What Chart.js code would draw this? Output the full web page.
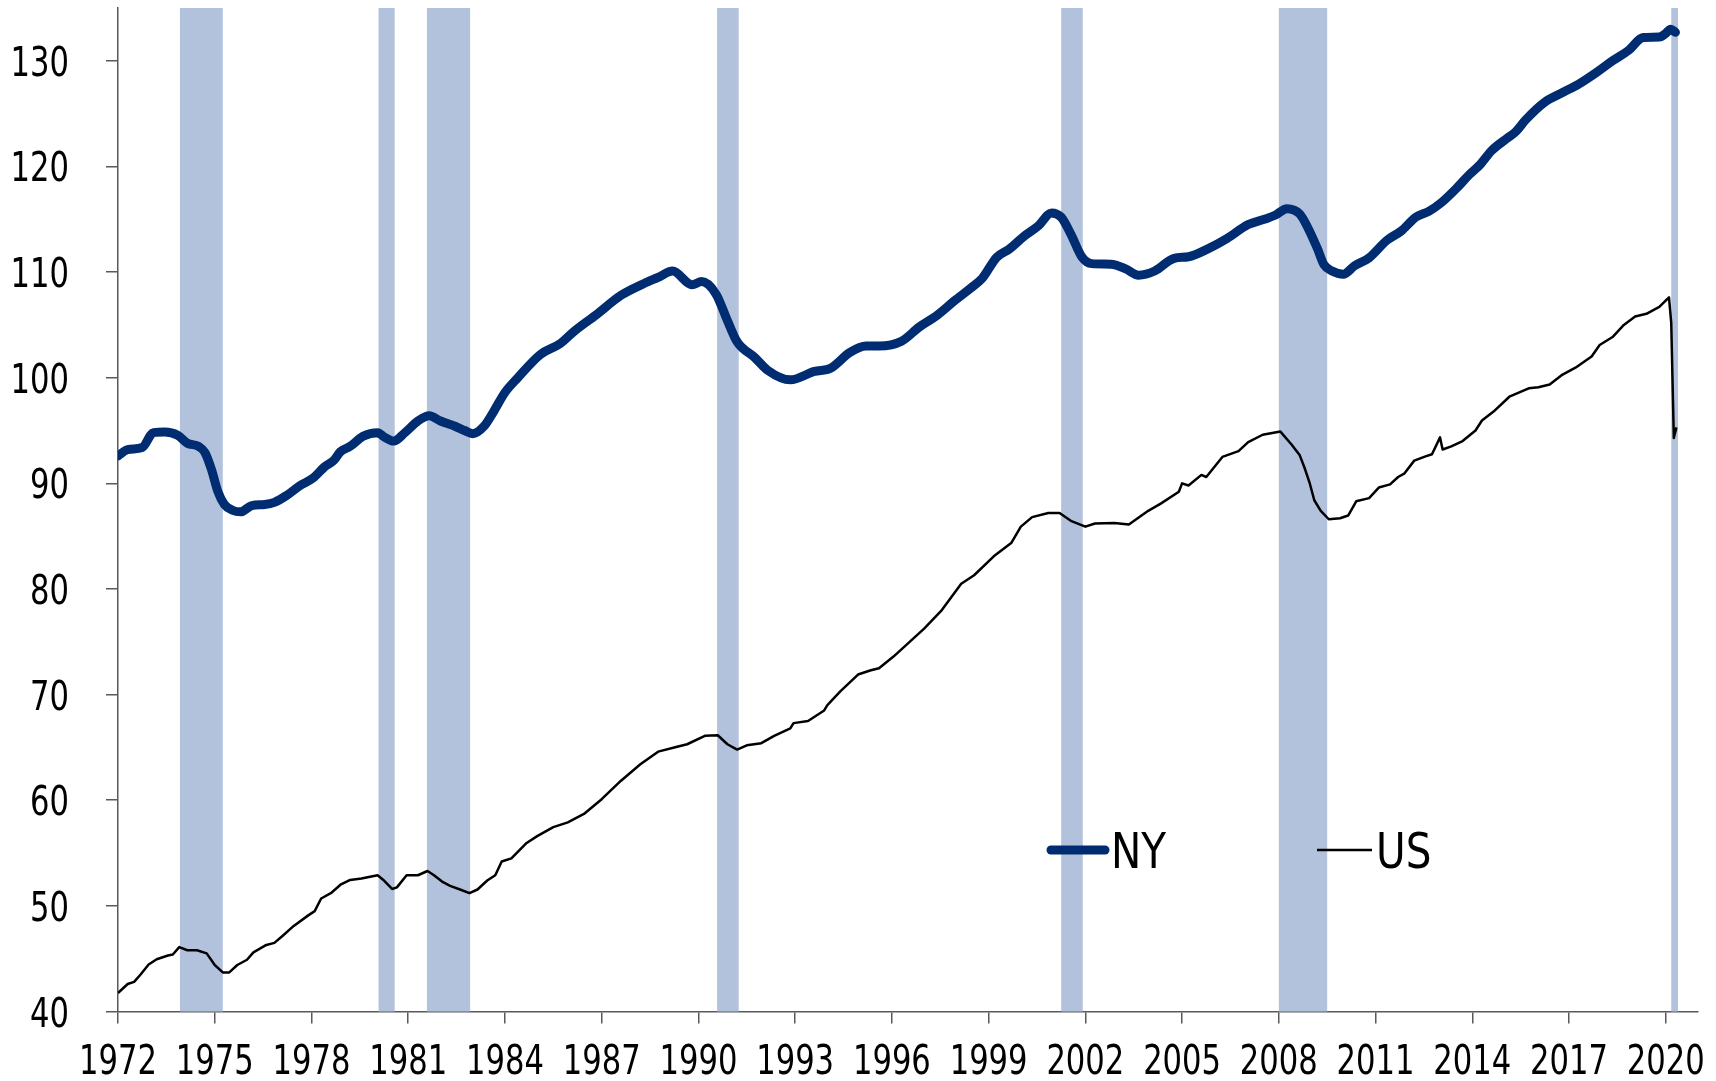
<!DOCTYPE html>
<html>
<head>
<meta charset="utf-8">
<script src="https://cdn.jsdelivr.net/npm/chart.js@4.4.1/dist/chart.umd.min.js"></script>
<style>
	html, body { margin: 0; padding: 0; background: #fff; }
</style>
</head>
<body>
<canvas id="employmentChart" width="1716" height="1081"></canvas>
<script>
// NY (thick navy line)
const nyYears = [
	1972.0, 1972.3, 1972.75, 1973.1, 1973.45, 1973.85, 1974.15, 1974.5, 1974.7, 1974.9,
	1975.1, 1975.3, 1975.55, 1975.8, 1976.15, 1976.55, 1976.85, 1977.25, 1977.65, 1978.05,
	1978.4, 1978.7, 1978.9, 1979.2, 1979.6, 1980.05, 1980.25, 1980.55, 1980.9, 1981.3,
	1981.65, 1982.0, 1982.45, 1982.75, 1983.0, 1983.35, 1983.65, 1984.0, 1984.4, 1985.1,
	1985.7, 1986.15, 1986.85, 1987.6, 1988.3, 1988.75, 1989.2, 1989.8, 1990.1, 1990.55,
	1990.9, 1991.2, 1991.75, 1992.15, 1992.85, 1993.6, 1994.1, 1994.7, 1995.2, 1995.6,
	1996.3, 1996.85, 1997.4, 1997.95, 1998.45, 1998.8, 1999.25, 1999.65, 2000.1, 2000.55,
	2000.95, 2001.25, 2001.55, 2001.9, 2002.2, 2002.8, 2003.25, 2003.65, 2004.15, 2004.75,
	2005.2, 2005.8, 2006.4, 2007.05, 2007.55, 2007.9, 2008.25, 2008.65, 2008.9, 2009.2,
	2009.4, 2009.65, 2010.0, 2010.35, 2010.8, 2011.35, 2011.8, 2012.25, 2012.65, 2013.05,
	2013.5, 2013.9, 2014.25, 2014.6, 2015.05, 2015.35, 2015.65, 2016.25, 2016.8, 2017.3,
	2017.85, 2018.35, 2018.85, 2019.3, 2019.8, 2020.0, 2020.15, 2020.3
];
const nyValues = [
	92.6, 93.2, 93.4, 94.8, 94.85, 94.55, 93.8, 93.5, 92.9, 91.3,
	89.2, 88.0, 87.45, 87.3, 87.9, 88.0, 88.2, 88.9, 89.8, 90.5,
	91.55, 92.2, 93.0, 93.5, 94.45, 94.8, 94.4, 94.0, 94.8, 95.9,
	96.4, 95.9, 95.4, 95.0, 94.7, 95.4, 96.8, 98.6, 100.0, 102.2,
	103.2, 104.4, 106.0, 107.8, 108.9, 109.5, 110.1, 108.8, 109.1, 107.9,
	105.4, 103.4, 101.9, 100.7, 99.8, 100.6, 100.9, 102.4, 103.0, 103.0,
	103.45, 104.8, 105.9, 107.3, 108.5, 109.4, 111.4, 112.2, 113.4, 114.4,
	115.6, 115.2, 113.6, 111.4, 110.8, 110.75, 110.3, 109.7, 110.1, 111.3,
	111.45, 112.2, 113.2, 114.5, 115.0, 115.4, 116.0, 115.5, 114.2, 112.2,
	110.7, 110.1, 109.8, 110.6, 111.35, 113.0, 113.9, 115.2, 115.75, 116.6,
	117.9, 119.2, 120.2, 121.5, 122.6, 123.3, 124.4, 126.1, 127.0, 127.8,
	128.9, 130.0, 131.0, 132.2, 132.25, 132.6, 133.0, 132.7
];

// US (thin black line)
const usYears = [
	1972.0, 1972.3, 1972.5, 1972.7, 1972.95, 1973.2, 1973.55, 1973.7, 1973.9, 1974.15,
	1974.45, 1974.75, 1975.0, 1975.25, 1975.45, 1975.7, 1976.0, 1976.2, 1976.6, 1976.85,
	1977.1, 1977.45, 1977.9, 1978.1, 1978.3, 1978.6, 1978.9, 1979.2, 1979.55, 1980.05,
	1980.25, 1980.5, 1980.65, 1980.95, 1981.3, 1981.6, 1981.8, 1982.05, 1982.3, 1982.65,
	1982.9, 1983.15, 1983.45, 1983.7, 1983.9, 1984.2, 1984.65, 1985.0, 1985.5, 1985.95,
	1986.45, 1987.0, 1987.6, 1988.2, 1988.75, 1989.25, 1989.65, 1990.2, 1990.6, 1990.9,
	1991.2, 1991.5, 1991.95, 1992.35, 1992.85, 1992.95, 1993.4, 1993.9, 1994.0, 1994.4,
	1994.95, 1995.35, 1995.6, 1996.05, 1996.5, 1997.0, 1997.55, 1998.15, 1998.55, 1999.2,
	1999.7, 2000.0, 2000.35, 2000.85, 2001.2, 2001.55, 2002.0, 2002.3, 2002.9, 2003.35,
	2003.95, 2004.35, 2004.9, 2005.0, 2005.2, 2005.6, 2005.75, 2006.25, 2006.75, 2007.05,
	2007.5, 2008.05, 2008.4, 2008.65, 2008.8, 2008.95, 2009.1, 2009.3, 2009.55, 2009.9,
	2010.15, 2010.4, 2010.8, 2011.1, 2011.45, 2011.7, 2011.9, 2012.2, 2012.55, 2012.75,
	2013.0, 2013.08, 2013.35, 2013.7, 2014.1, 2014.3, 2014.7, 2015.15, 2015.75, 2016.05,
	2016.4, 2016.8, 2017.2, 2017.7, 2017.95, 2018.35, 2018.7, 2019.05, 2019.4, 2019.8,
	2020.1, 2020.17, 2020.25, 2020.33
];
const usValues = [
	41.75, 42.6, 42.8, 43.5, 44.45, 44.95, 45.3, 45.4, 46.1, 45.8,
	45.8, 45.5, 44.4, 43.7, 43.7, 44.4, 44.9, 45.6, 46.3, 46.5,
	47.15, 48.1, 49.1, 49.5, 50.7, 51.2, 52.0, 52.45, 52.6, 52.9,
	52.4, 51.6, 51.75, 52.9, 52.9, 53.3, 52.9, 52.3, 51.9, 51.5,
	51.2, 51.55, 52.4, 52.9, 54.2, 54.5, 55.9, 56.6, 57.45, 57.9,
	58.7, 60.1, 61.85, 63.4, 64.6, 65.0, 65.3, 66.1, 66.15, 65.3,
	64.8, 65.2, 65.4, 66.1, 66.8, 67.3, 67.5, 68.5, 69.0, 70.3,
	71.9, 72.3, 72.5, 73.6, 74.85, 76.25, 78.0, 80.5, 81.3, 83.2,
	84.35, 85.9, 86.8, 87.2, 87.2, 86.45, 85.9, 86.2, 86.25, 86.1,
	87.4, 88.1, 89.2, 90.0, 89.8, 90.8, 90.6, 92.5, 93.05, 93.9,
	94.6, 94.9, 93.65, 92.65, 91.45, 90.1, 88.4, 87.4, 86.6, 86.7,
	86.95, 88.3, 88.6, 89.6, 89.9, 90.6, 90.95, 92.15, 92.55, 92.75,
	94.35, 93.2, 93.5, 94.0, 95.0, 95.95, 96.9, 98.2, 99.0, 99.1,
	99.35, 100.3, 100.95, 102.0, 103.1, 103.85, 105.0, 105.8, 106.05, 106.7,
	107.6, 105.2, 94.3, 95.3
];

// recession shading (decimal years)
const recessionStarts = [1973.92, 1980.08, 1981.58, 1990.58, 2001.25, 2008.0, 2020.17];
const recessionEnds = [1975.25, 1980.58, 1982.92, 1991.25, 2001.92, 2009.5, 2020.38];

const xTickYears = [1972, 1975, 1978, 1981, 1984, 1987, 1990, 1993, 1996, 1999, 2002, 2005, 2008, 2011, 2014, 2017, 2020];
const yTickValues = [40, 50, 60, 70, 80, 90, 100, 110, 120, 130];

const FONT = '"DejaVu Sans Condensed", "DejaVu Sans", sans-serif';
const SQUEEZE = 0.83; // the original lettering is narrow
const AXIS_GREY = '#595959';

// draw text narrower than the font would
function narrowText(ctx, text, x, y, align, size, squeeze) {
	ctx.save();
	ctx.translate(x, y);
	ctx.scale(squeeze, 1);
	ctx.font = size + 'px ' + FONT;
	ctx.textAlign = align;
	ctx.textBaseline = 'alphabetic';
	ctx.fillStyle = '#000';
	ctx.fillText(text, 0, 0);
	ctx.restore();
}

const recessionBands = {
	id: 'recessionBands',
	beforeDatasetsDraw(chart) {
		const { ctx, chartArea, scales: { x } } = chart;
		ctx.save();
		ctx.fillStyle = '#B3C2DC';
		recessionStarts.forEach((start, i) => {
			const left = x.getPixelForValue(start);
			const right = x.getPixelForValue(recessionEnds[i]);
			ctx.fillRect(left, chartArea.top, right - left, chartArea.bottom - chartArea.top);
		});
		ctx.restore();
	}
};

// tick labels, placed from the scales
const axisLabels = {
	id: 'axisLabels',
	afterDraw(chart) {
		const { ctx, chartArea, scales: { x, y } } = chart;
		xTickYears.forEach(v => {
			narrowText(ctx, String(v), x.getPixelForValue(v), chartArea.bottom + 62, 'center', 41, SQUEEZE);
		});
		yTickValues.forEach(v => {
			narrowText(ctx, String(v), chartArea.left - 49, y.getPixelForValue(v) + 15, 'right', 41, SQUEEZE);
		});
	}
};

// legend sits inside the plot, lower right
const insideLegend = {
	id: 'insideLegend',
	afterDatasetsDraw(chart) {
		const { ctx } = chart;
		const spots = [
			{ lineFrom: 1051, lineTo: 1105, textX: 1111 },
			{ lineFrom: 1317, lineTo: 1372, textX: 1376 }
		];
		chart.data.datasets.forEach((ds, i) => {
			const s = spots[i];
			ctx.save();
			ctx.beginPath();
			ctx.strokeStyle = ds.borderColor;
			ctx.lineWidth = ds.borderWidth;
			ctx.lineCap = ds.borderCapStyle || 'butt';
			ctx.moveTo(s.lineFrom, 850);
			ctx.lineTo(s.lineTo, 850);
			ctx.stroke();
			ctx.restore();
			narrowText(ctx, ds.label, s.textX, 868, 'left', 50, 0.9);
		});
	}
};

const ctx = document.getElementById('employmentChart');
new Chart(ctx, {
	type: 'line',
	data: {
		datasets: [
			{
				label: 'NY',
				data: nyYears.map((x, i) => ({ x, y: nyValues[i] })),
				borderColor: '#002D72',
				borderWidth: 9,
				borderCapStyle: 'round',
				borderJoinStyle: 'round',
				cubicInterpolationMode: 'monotone',
				pointRadius: 0
			},
			{
				label: 'US',
				data: usYears.map((x, i) => ({ x, y: usValues[i] })),
				borderColor: '#000000',
				borderWidth: 2.5,
				borderJoinStyle: 'round',
				tension: 0,
				pointRadius: 0
			}
		]
	},
	options: {
		responsive: false,
		animation: false,
		layout: { padding: { top: 8, right: 18, left: 0, bottom: 0 } },
		plugins: {
			legend: { display: false },
			tooltip: { enabled: false }
		},
		scales: {
			x: {
				type: 'linear',
				min: 1972,
				max: 2021,
				afterBuildTicks: axis => { axis.ticks = xTickYears.map(v => ({ value: v })); },
				afterFit: axis => {
					axis.height = 69.5;
					axis.paddingLeft = 0;
					axis.paddingRight = 0;
				},
				grid: { drawOnChartArea: false, color: AXIS_GREY, tickLength: 12, lineWidth: 1.5 },
				border: { color: AXIS_GREY, width: 1.5 },
				ticks: { display: false }
			},
			y: {
				min: 40,
				max: 135,
				afterBuildTicks: axis => { axis.ticks = yTickValues.map(v => ({ value: v })); },
				afterFit: axis => {
					axis.width = 118;
					axis.paddingTop = 0;
					axis.paddingBottom = 0;
				},
				grid: { drawOnChartArea: false, color: AXIS_GREY, tickLength: 12, lineWidth: 1.5 },
				border: { color: AXIS_GREY, width: 1.5 },
				ticks: { display: false }
			}
		}
	},
	plugins: [recessionBands, axisLabels, insideLegend]
});
</script>
</body>
</html>
